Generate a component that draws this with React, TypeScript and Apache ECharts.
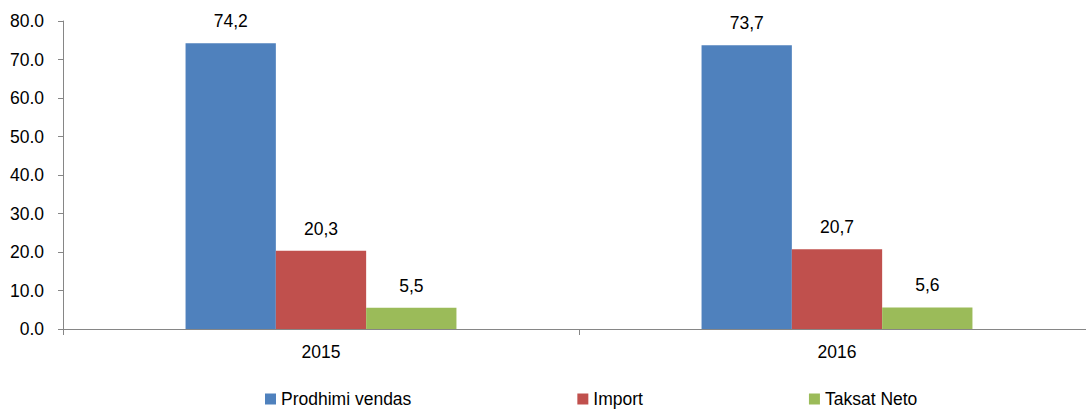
import React, { useEffect, useRef } from "react";
import * as echarts from "echarts";

const categories = ["2015", "2016"];
const seriesNames = ["Prodhimi vendas", "Import", "Taksat Neto"];
const prodhimi = [74.2, 73.7];
const importValues = [20.3, 20.7];
const taksat = [5.5, 5.6];
const colors = ["#4F81BD", "#C0504D", "#9BBB59"];
const yTicks = { min: 0, max: 80, interval: 10 };

const FONT = "'Liberation Sans', Arial, sans-serif";

export default function App() {
  const ref = useRef<HTMLDivElement>(null);
  useEffect(() => {
    if (!ref.current) return;
    const chart = echarts.init(ref.current, null, { renderer: "svg" });
    const values = [prodhimi, importValues, taksat];
    chart.setOption({
      animation: false,
      textStyle: { fontFamily: FONT },
      grid: { left: 63, top: 21, bottom: 80, right: 5 },
      legend: {
        left: 260,
        top: 385,
        itemWidth: 11,
        itemHeight: 11,
        itemGap: 166,
        icon: "rect",
        textStyle: { fontSize: 17.5, color: "#000", fontFamily: FONT },
        data: seriesNames,
      },
      xAxis: {
        type: "category",
        data: categories,
        axisLine: { lineStyle: { color: "#868686" } },
        axisTick: { show: true, alignWithLabel: false, length: 6, lineStyle: { color: "#868686" } },
        axisLabel: { fontSize: 17.5, color: "#000", margin: 14, fontFamily: FONT },
      },
      yAxis: {
        type: "value",
        min: yTicks.min,
        max: yTicks.max,
        interval: yTicks.interval,
        axisLine: { show: true, lineStyle: { color: "#868686" } },
        axisTick: { show: true, length: 5, lineStyle: { color: "#868686" } },
        splitLine: { show: false },
        axisLabel: {
          fontSize: 17.5,
          color: "#000",
          margin: 19,
          fontFamily: FONT,
          formatter: (v: number) => v.toFixed(1),
        },
      },
      series: seriesNames.map((name, i) => ({
        name,
        type: "bar",
        data: values[i],
        barWidth: "17.5%",
        barGap: "0%",
        itemStyle: { color: colors[i] },
        label: {
          show: true,
          position: "top",
          distance: 13,
          fontSize: 17.5,
          color: "#000",
          fontFamily: FONT,
          formatter: (p: any) => String(p.value.toFixed(1)).replace(".", ","),
        },
      })),
    });
    return () => chart.dispose();
  }, []);
  return (
    <div
      ref={ref}
      style={{ position: "fixed", left: 0, top: 0, width: 1100, height: 409, background: "#fff" }}
    />
  );
}
